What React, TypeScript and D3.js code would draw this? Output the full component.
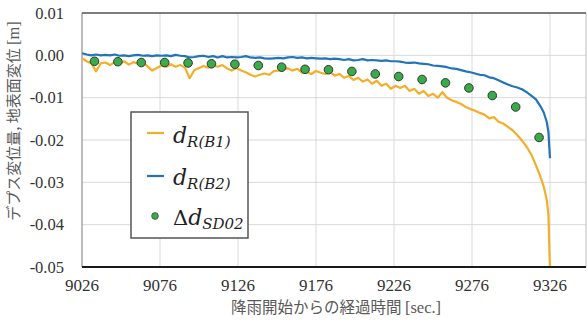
import React from "react";
import * as d3 from "d3";

const times = [
  9026, 9029, 9032, 9035, 9038, 9041, 9044, 9047, 9050, 9053,
  9056, 9059, 9062, 9065, 9068, 9071, 9074, 9077, 9080, 9083,
  9086, 9089, 9092, 9095, 9098, 9101, 9104, 9107, 9110, 9113,
  9116, 9119, 9122, 9125, 9128, 9131, 9134, 9137, 9140, 9143,
  9146, 9149, 9152, 9155, 9158, 9161, 9164, 9167, 9170, 9173,
  9176, 9179, 9182, 9185, 9188, 9191, 9194, 9197, 9200, 9203,
  9206, 9209, 9212, 9215, 9218, 9221, 9224, 9227, 9230, 9233,
  9236, 9239, 9242, 9245, 9248, 9251, 9254, 9257, 9260, 9263,
  9266, 9269, 9272, 9275, 9278, 9281, 9284, 9287, 9290, 9293,
  9296, 9299, 9302, 9305, 9308, 9311, 9314, 9317, 9320, 9322,
  9324, 9325, 9326,
];

const dB1 = [
  -0.0007, -0.0014, -0.0019, -0.0038, -0.0019, -0.0017, -0.0023, -0.0016, -0.0020, -0.0014,
  -0.0022, -0.0016, -0.0020, -0.0016, -0.0026, -0.0036, -0.0030, -0.0024, -0.0027, -0.0021,
  -0.0027, -0.0023, -0.0029, -0.0054, -0.0035, -0.0030, -0.0025, -0.0029, -0.0023, -0.0027,
  -0.0023, -0.0031, -0.0036, -0.0030, -0.0036, -0.0040, -0.0046, -0.0050, -0.0046, -0.0043,
  -0.0046, -0.0037, -0.0036, -0.0032, -0.0031, -0.0036, -0.0032, -0.0041, -0.0039, -0.0044,
  -0.0037, -0.0041, -0.0044, -0.0039, -0.0048, -0.0044, -0.0053, -0.0049, -0.0058, -0.0053,
  -0.0062, -0.0057, -0.0067, -0.0060, -0.0072, -0.0067, -0.0079, -0.0072, -0.0077, -0.0072,
  -0.0084, -0.0079, -0.0091, -0.0084, -0.0096, -0.0091, -0.0100, -0.0087, -0.0100, -0.0106,
  -0.0110, -0.0115, -0.0122, -0.0127, -0.0131, -0.0136, -0.0140, -0.0149, -0.0146, -0.0157,
  -0.0161, -0.0169, -0.0177, -0.0188, -0.0201, -0.0216, -0.0234, -0.0260, -0.0288, -0.0310,
  -0.0343, -0.0378, -0.0510,
];

const dB2 = [
  0.0005, 0.0002, 0.0000, 0.0002, 0.0000, 0.0001, 0.0000, 0.0002, -0.0001, 0.0000,
  -0.0002, 0.0000, 0.0001, -0.0001, 0.0000, -0.0002, 0.0000, -0.0001, 0.0000, -0.0002,
  0.0001, -0.0001, -0.0002, -0.0005, -0.0004, -0.0002, -0.0001, -0.0004, -0.0002, -0.0005,
  -0.0002, -0.0005, -0.0004, -0.0005, -0.0004, -0.0002, -0.0005, -0.0006, -0.0005, -0.0007,
  -0.0008, -0.0007, -0.0006, -0.0007, -0.0005, -0.0004, -0.0006, -0.0005, -0.0007, -0.0006,
  -0.0007, -0.0008, -0.0007, -0.0009, -0.0008, -0.0009, -0.0011, -0.0009, -0.0012, -0.0011,
  -0.0009, -0.0012, -0.0011, -0.0012, -0.0013, -0.0012, -0.0014, -0.0014, -0.0015, -0.0017,
  -0.0018, -0.0017, -0.0019, -0.0020, -0.0021, -0.0024, -0.0025, -0.0026, -0.0028, -0.0031,
  -0.0032, -0.0035, -0.0038, -0.0040, -0.0043, -0.0046, -0.0047, -0.0052, -0.0054, -0.0059,
  -0.0064, -0.0069, -0.0073, -0.0076, -0.0080, -0.0087, -0.0095, -0.0104, -0.0121, -0.0135,
  -0.0158, -0.0182, -0.0243,
];

const sdTimes = [
  9034, 9049, 9064, 9079, 9094, 9109, 9124, 9139, 9154, 9169,
  9184, 9199, 9214, 9229, 9244, 9259, 9274, 9289, 9304, 9319,
];
const dSD02 = [
  -0.0014, -0.0015, -0.0017, -0.0017, -0.0018, -0.0020, -0.0021, -0.0024, -0.0028, -0.0033,
  -0.0034, -0.0038, -0.0044, -0.0050, -0.0057, -0.0065, -0.0077, -0.0095, -0.0122, -0.0194,
];

const xTicks = [9026, 9076, 9126, 9176, 9226, 9276, 9326];
const yTicks = [0.01, 0.0, -0.01, -0.02, -0.03, -0.04, -0.05];

const W = 588;
const H = 322;
const L = 82;
const R = 586;
const T = 13;
const B = 267;

const ORANGE = "#F4AE2A";
const BLUE = "#2274B8";
const GREEN = "#3AAA4A";

const SERIF = "'Liberation Serif', 'Times New Roman', Tinos, 'DejaVu Serif', serif";
const CJK = "'Noto Sans CJK JP', 'Noto Sans', sans-serif";
const MATH = "'DejaVu Serif', serif";

export default function App() {
  const x = d3.scaleLinear().domain([9026, 9326]).range([L, 550]);
  const y = d3.scaleLinear().domain([-0.05, 0.01]).range([B, T]);

  const line = d3
    .line<number>()
    .x((_, i) => x(times[i]))
    .y((v) => y(v));

  return (
    <svg
      width={W}
      height={H}
      style={{ position: "absolute", left: 0, top: 0, background: "#fff" }}
    >
      <defs>
        <clipPath id="plotClip">
          <rect x={L} y={T} width={R - L} height={B - T} />
        </clipPath>
      </defs>
      {yTicks.map((t) => (
        <line key={"gy" + t} x1={L} x2={R} y1={y(t)} y2={y(t)} stroke="#d9d9d9" strokeWidth={1} />
      ))}
      {xTicks.map((t) => (
        <line key={"gx" + t} x1={x(t)} x2={x(t)} y1={T} y2={B} stroke="#d9d9d9" strokeWidth={1} />
      ))}
      <line x1={L} x2={L} y1={T} y2={B} stroke="#8c8c8c" strokeWidth={1} />
      <line x1={R} x2={R} y1={T} y2={B} stroke="#bfbfbf" strokeWidth={1} />
      <line x1={L} x2={R} y1={T} y2={T} stroke="#595959" strokeWidth={1.5} />

      <g clipPath="url(#plotClip)">
        <path d={line(dB1) || ""} fill="none" stroke={ORANGE} strokeWidth={2.2} strokeLinejoin="round" />
        <path d={line(dB2) || ""} fill="none" stroke={BLUE} strokeWidth={2.2} strokeLinejoin="round" />
        {dSD02.map((v, i) => (
          <circle
            key={"sd" + i}
            cx={x(sdTimes[i])}
            cy={y(v)}
            r={4.3}
            fill={GREEN}
            stroke="#2b3b2b"
            strokeWidth={1}
          />
        ))}
      </g>

      <line x1={L} x2={R} y1={B} y2={B} stroke="#1a1a1a" strokeWidth={1.8} />

      {yTicks.map((t) => (
        <text
          key={"yl" + t}
          x={64}
          y={y(t)}
          dy="0.35em"
          textAnchor="end"
          fontFamily={SERIF}
          fontSize={16.5}
          fill="#333"
        >
          {d3.format(".2f")(t).replace("−", "-")}
        </text>
      ))}
      {xTicks.map((t) => (
        <text
          key={"xl" + t}
          x={x(t)}
          y={291}
          textAnchor="middle"
          fontFamily={SERIF}
          fontSize={17}
          fill="#333"
        >
          {t}
        </text>
      ))}

      <text x={336} y={313} textAnchor="middle" fontSize={15.5} fill="#595959" fontFamily={CJK}>
        降雨開始からの経過時間{" "}
        <tspan fontFamily={SERIF} fontSize={16.5}>[sec.]</tspan>
      </text>
      <text
        transform="translate(19,121) rotate(-90)"
        textAnchor="middle"
        fontSize={15}
        fill="#595959"
        fontFamily={CJK}
      >
        デプス変位量, 地表面変位{" "}
        <tspan fontFamily={SERIF} fontSize={16.5}>[m]</tspan>
      </text>

      <rect x={131} y={112} width={117} height={126} fill="#fff" stroke="#555" strokeWidth={1.5} />
      <line x1={147} x2={164} y1={133} y2={133} stroke={ORANGE} strokeWidth={2.2} />
      <line x1={147} x2={164} y1={176} y2={176} stroke={BLUE} strokeWidth={2.2} />
      <circle cx={155} cy={216} r={3.4} fill={GREEN} stroke="#2b3b2b" strokeWidth={0.6} />
      <text x={173} y={143} fontFamily={MATH} fill="#1f1f1f">
        <tspan fontStyle="italic" fontSize={22}>d</tspan>
        <tspan fontStyle="italic" fontSize={15} dy={4}>R(B1)</tspan>
      </text>
      <text x={173} y={185} fontFamily={MATH} fill="#1f1f1f">
        <tspan fontStyle="italic" fontSize={22}>d</tspan>
        <tspan fontStyle="italic" fontSize={15} dy={4}>R(B2)</tspan>
      </text>
      <text x={173} y={225} fontFamily={MATH} fill="#1f1f1f">
        <tspan fontSize={21}>Δ</tspan>
        <tspan fontStyle="italic" fontSize={22}>d</tspan>
        <tspan fontStyle="italic" fontSize={15} dy={4}>SD02</tspan>
      </text>
    </svg>
  );
}
